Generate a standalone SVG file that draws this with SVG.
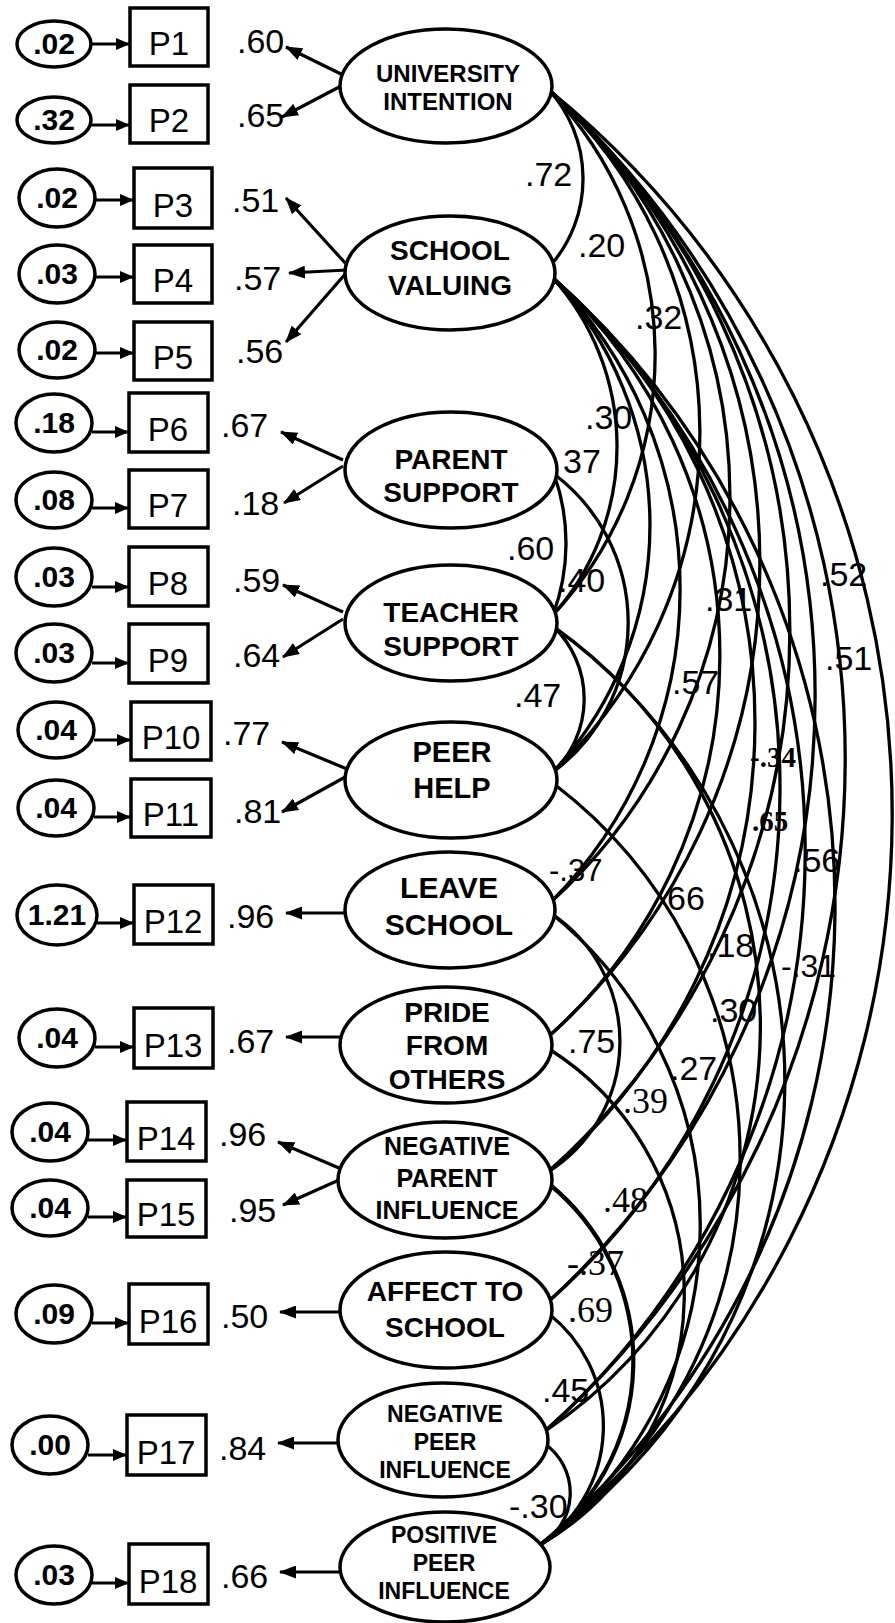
<svg xmlns="http://www.w3.org/2000/svg" width="895" height="1623" viewBox="0 0 895 1623">
<style>
.ln{fill:none;stroke:#000;stroke-width:3.3}
.ar{fill:none;stroke:#000;stroke-width:3.2;marker-end:url(#ah)}
.ea{fill:none;stroke:#000;stroke-width:3.2;marker-end:url(#eh)}
.nd{fill:#fff;stroke:#000;stroke-width:3.5}
.bx{fill:#fff;stroke:#000;stroke-width:3.5}
text{font-family:"Liberation Sans",Arial,sans-serif;fill:#000}
.lt{font-weight:bold;text-anchor:middle}
.er{font-weight:bold;font-size:30px;text-anchor:middle}
.pt{font-size:33px;text-anchor:middle}
.nm{font-size:34px}
.tm{font-family:"Liberation Serif","Times New Roman",serif;font-size:36px}
.tb{font-family:"Liberation Serif","Times New Roman",serif;font-size:29px;font-weight:bold}
</style>
<defs>
<marker id="ah" markerUnits="userSpaceOnUse" markerWidth="17" markerHeight="13" refX="16" refY="6.5" orient="auto"><path d="M0,0 L17,6.5 L0,13 Z" fill="#000"/></marker>
<marker id="eh" markerUnits="userSpaceOnUse" markerWidth="14" markerHeight="12" refX="14" refY="6" orient="auto"><path d="M0,0 L14,6 L0,12 Z" fill="#000"/></marker>
</defs>
<g id="connectors">
<path class="ln" d="M549,90 A132.5,132.5 0 0 1 551,265"/>
<path class="ln" d="M549,90 A383,383 0 0 1 553,615"/>
<path class="ln" d="M549,90 A465,465 0 0 1 553,772"/>
<path class="ln" d="M549,90 A548,548 0 0 1 551,902"/>
<path class="ln" d="M549,90 A636,636 0 0 1 548,1037"/>
<path class="ln" d="M549,90 A727,727 0 0 1 548,1172"/>
<path class="ln" d="M549,90 A822,822 0 0 1 548,1302"/>
<path class="ln" d="M549,90 A903,903 0 0 1 544,1432"/>
<path class="ln" d="M549,90 A935,935 0 0 1 540,1545"/>
<path class="ln" d="M552,277 A253.6,253.6 0 0 1 553,615"/>
<path class="ln" d="M552,277 A363,363 0 0 1 553,772"/>
<path class="ln" d="M552,277 A444,444 0 0 1 551,902"/>
<path class="ln" d="M552,277 A510,510 0 0 1 548,1037"/>
<path class="ln" d="M552,277 A591,591 0 0 1 548,1172"/>
<path class="ln" d="M552,277 A686,686 0 0 1 548,1302"/>
<path class="ln" d="M552,277 A777,777 0 0 1 544,1432"/>
<path class="ln" d="M552,277 A840,840 0 0 1 540,1545"/>
<path class="ln" d="M554,474 A205,205 0 0 1 553,615"/>
<path class="ln" d="M554,474 A186,186 0 0 1 553,772"/>
<path class="ln" d="M554,627 A101,101 0 0 1 553,772"/>
<path class="ln" d="M554,627 A489,489 0 0 1 544,1432"/>
<path class="ln" d="M554,627 A562,562 0 0 1 540,1545"/>
<path class="ln" d="M554,784 A471.6,471.6 0 0 1 540,1545"/>
<path class="ln" d="M552,914 A154,154 0 0 1 548,1172"/>
<path class="ln" d="M552,914 A400,400 0 0 1 540,1545"/>
<path class="ln" d="M549,1049 A290,290 0 0 1 540,1545"/>
<path class="ln" style="stroke-width:4.2" d="M549,1184 A228,228 0 0 1 540,1545"/>
<path class="ln" d="M549,1314 A143,143 0 0 1 540,1545"/>
<path class="ln" d="M545,1444 A60,60 0 0 1 540,1545"/>
<line class="ar" x1="343" y1="75" x2="286" y2="47"/>
<line class="ar" x1="343" y1="85" x2="282" y2="117"/>
<line class="ar" x1="347" y1="265" x2="286" y2="198"/>
<line class="ar" x1="347" y1="270" x2="289" y2="273"/>
<line class="ar" x1="347" y1="272" x2="286" y2="342"/>
<line class="ar" x1="343" y1="460" x2="281" y2="432"/>
<line class="ar" x1="343" y1="466" x2="284" y2="503"/>
<line class="ar" x1="343" y1="612" x2="283" y2="585"/>
<line class="ar" x1="343" y1="619" x2="283" y2="657"/>
<line class="ar" x1="347" y1="769" x2="282" y2="742"/>
<line class="ar" x1="347" y1="776" x2="282" y2="812"/>
<line class="ar" x1="347" y1="913" x2="286" y2="913"/>
<line class="ar" x1="342" y1="1037" x2="286" y2="1037"/>
<line class="ar" x1="339" y1="1168" x2="278" y2="1142"/>
<line class="ar" x1="339" y1="1180" x2="283" y2="1205"/>
<line class="ar" x1="342" y1="1312" x2="280" y2="1312"/>
<line class="ar" x1="339" y1="1443" x2="278" y2="1443"/>
<line class="ar" x1="342" y1="1572" x2="280" y2="1572"/>
<line class="ea" x1="91" y1="44" x2="130" y2="44"/>
<line class="ea" x1="91" y1="125" x2="130" y2="125"/>
<line class="ea" x1="95" y1="200" x2="134" y2="200"/>
<line class="ea" x1="95" y1="277" x2="134" y2="277"/>
<line class="ea" x1="95" y1="353" x2="134" y2="353"/>
<line class="ea" x1="92" y1="432" x2="129" y2="432"/>
<line class="ea" x1="92" y1="508" x2="129" y2="508"/>
<line class="ea" x1="92" y1="587" x2="129" y2="587"/>
<line class="ea" x1="92" y1="663" x2="129" y2="663"/>
<line class="ea" x1="94" y1="740" x2="131" y2="740"/>
<line class="ea" x1="94" y1="817" x2="131" y2="817"/>
<line class="ea" x1="97" y1="923" x2="134" y2="923"/>
<line class="ea" x1="95" y1="1047" x2="134" y2="1047"/>
<line class="ea" x1="88" y1="1140" x2="127" y2="1140"/>
<line class="ea" x1="88" y1="1217" x2="127" y2="1217"/>
<line class="ea" x1="92" y1="1323" x2="129" y2="1323"/>
<line class="ea" x1="88" y1="1455" x2="127" y2="1455"/>
<line class="ea" x1="92" y1="1583" x2="129" y2="1583"/>
</g>
<g id="labels">
<text class="nm" x="237" y="53">.60</text>
<text class="nm" x="237" y="127">.65</text>
<text class="nm" x="232" y="212">.51</text>
<text class="nm" x="234" y="290">.57</text>
<text class="nm" x="236" y="363">.56</text>
<text class="nm" x="221" y="437">.67</text>
<text class="nm" x="232" y="515">.18</text>
<text class="nm" x="233" y="592">.59</text>
<text class="nm" x="233" y="667">.64</text>
<text class="nm" x="223" y="745">.77</text>
<text class="nm" x="234" y="823">.81</text>
<text class="nm" x="227" y="928">.96</text>
<text class="nm" x="227" y="1053">.67</text>
<text class="nm" x="219" y="1146">.96</text>
<text class="nm" x="229" y="1222">.95</text>
<text class="nm" x="221" y="1328">.50</text>
<text class="nm" x="219" y="1460">.84</text>
<text class="nm" x="221" y="1588">.66</text>
<text class="nm" x="525" y="186">.72</text>
<text class="nm" x="578" y="257">.20</text>
<text class="nm" x="635" y="329">.32</text>
<text class="nm" x="585" y="429">.30</text>
<text class="nm" x="563" y="473">37</text>
<text class="nm" x="507" y="560">.60</text>
<text class="nm" x="558" y="592">.40</text>
<text class="nm" x="705" y="611">.31</text>
<text class="nm" x="820" y="586">.52</text>
<text class="nm" x="672" y="694">.57</text>
<text class="nm" x="825" y="670">.51</text>
<text class="nm" x="514" y="707">.47</text>
<text class="tb" x="750" y="767">-.34</text>
<text class="tb" x="752" y="831">.65</text>
<text class="nm" x="793" y="872">.56</text>
<text class="nm" x="549" y="881" style="font-size:31px">-.37</text>
<text class="nm" x="667" y="910">66</text>
<text class="nm" x="707" y="957">.18</text>
<text class="nm" x="781" y="977" style="font-size:32px">-.31</text>
<text class="nm" x="710" y="1022">.30</text>
<text class="nm" x="568" y="1053">.75</text>
<text class="nm" x="670" y="1080">.27</text>
<text class="tm" x="623" y="1113">.39</text>
<text class="tm" x="603" y="1212">.48</text>
<text class="tm" x="567" y="1275">-.37</text>
<text class="tm" x="568" y="1322">.69</text>
<text class="nm" x="542" y="1402">.45</text>
<text class="nm" x="509" y="1518">-.30</text>
</g>
<g id="n-uni"><ellipse class="nd" cx="446" cy="86" rx="106" ry="57"/><text class="lt" style="font-size:24px" x="448" y="82">UNIVERSITY</text><text class="lt" style="font-size:24px" x="448" y="110">INTENTION</text></g>
<g id="n-sv"><ellipse class="nd" cx="450" cy="273" rx="105" ry="57"/><text class="lt" style="font-size:28px" x="450" y="260">SCHOOL</text><text class="lt" style="font-size:28px" x="450" y="295">VALUING</text></g>
<g id="n-ps"><ellipse class="nd" cx="451" cy="470" rx="106" ry="58"/><text class="lt" style="font-size:28px" x="451" y="469">PARENT</text><text class="lt" style="font-size:28px" x="451" y="502">SUPPORT</text></g>
<g id="n-ts"><ellipse class="nd" cx="451" cy="623" rx="106" ry="58"/><text class="lt" style="font-size:28px" x="451" y="622">TEACHER</text><text class="lt" style="font-size:28px" x="451" y="656">SUPPORT</text></g>
<g id="n-ph"><ellipse class="nd" cx="451" cy="780" rx="106" ry="58"/><text class="lt" style="font-size:29px" x="452" y="762">PEER</text><text class="lt" style="font-size:29px" x="452" y="798">HELP</text></g>
<g id="n-ls"><ellipse class="nd" cx="450" cy="910" rx="105" ry="58"/><text class="lt" style="font-size:30px" x="449" y="898">LEAVE</text><text class="lt" style="font-size:30px" x="449" y="935">SCHOOL</text></g>
<g id="n-pr"><ellipse class="nd" cx="446" cy="1045" rx="106" ry="58"/><text class="lt" style="font-size:28px" x="447" y="1022">PRIDE</text><text class="lt" style="font-size:28px" x="447" y="1055">FROM</text><text class="lt" style="font-size:28px" x="447" y="1089">OTHERS</text></g>
<g id="n-npi"><ellipse class="nd" cx="445" cy="1180" rx="107" ry="58"/><text class="lt" style="font-size:25px" x="447" y="1155">NEGATIVE</text><text class="lt" style="font-size:25px" x="447" y="1187">PARENT</text><text class="lt" style="font-size:25px" x="447" y="1219">INFLUENCE</text></g>
<g id="n-as"><ellipse class="nd" cx="446" cy="1310" rx="106" ry="58"/><text class="lt" style="font-size:28px" x="445" y="1301">AFFECT TO</text><text class="lt" style="font-size:28px" x="445" y="1337">SCHOOL</text></g>
<g id="n-np"><ellipse class="nd" cx="443" cy="1440" rx="105" ry="57"/><text class="lt" style="font-size:23px" x="445" y="1422">NEGATIVE</text><text class="lt" style="font-size:23px" x="445" y="1450">PEER</text><text class="lt" style="font-size:23px" x="445" y="1478">INFLUENCE</text></g>
<g id="n-pp"><ellipse class="nd" cx="445" cy="1567" rx="105" ry="55"/><text class="lt" style="font-size:23px" x="444" y="1543">POSITIVE</text><text class="lt" style="font-size:23px" x="444" y="1571">PEER</text><text class="lt" style="font-size:23px" x="444" y="1599">INFLUENCE</text></g>
<g id="ind-p1"><ellipse class="nd" cx="54" cy="44" rx="37" ry="23"/><text class="er" x="54" y="54">.02</text><rect class="bx" x="130" y="8" width="78" height="58"/><text class="pt" x="169" y="55">P1</text></g>
<g id="ind-p2"><ellipse class="nd" cx="54" cy="120" rx="37" ry="23"/><text class="er" x="54" y="130">.32</text><rect class="bx" x="130" y="85" width="78" height="58"/><text class="pt" x="169" y="132">P2</text></g>
<g id="ind-p3"><ellipse class="nd" cx="57" cy="198" rx="38" ry="29"/><text class="er" x="57" y="208">.02</text><rect class="bx" x="134" y="168" width="78" height="60"/><text class="pt" x="173" y="217">P3</text></g>
<g id="ind-p4"><ellipse class="nd" cx="57" cy="274" rx="38" ry="29"/><text class="er" x="57" y="284">.03</text><rect class="bx" x="134" y="245" width="78" height="58"/><text class="pt" x="173" y="292">P4</text></g>
<g id="ind-p5"><ellipse class="nd" cx="57" cy="350" rx="38" ry="28"/><text class="er" x="57" y="360">.02</text><rect class="bx" x="134" y="322" width="78" height="58"/><text class="pt" x="173" y="369">P5</text></g>
<g id="ind-p6"><ellipse class="nd" cx="54" cy="423" rx="38" ry="29"/><text class="er" x="54" y="433">.18</text><rect class="bx" x="129" y="393" width="79" height="59"/><text class="pt" x="168" y="441">P6</text></g>
<g id="ind-p7"><ellipse class="nd" cx="54" cy="500" rx="38" ry="28"/><text class="er" x="54" y="510">.08</text><rect class="bx" x="129" y="470" width="79" height="58"/><text class="pt" x="168" y="517">P7</text></g>
<g id="ind-p8"><ellipse class="nd" cx="54" cy="577" rx="38" ry="29"/><text class="er" x="54" y="587">.03</text><rect class="bx" x="129" y="547" width="79" height="59"/><text class="pt" x="168" y="595">P8</text></g>
<g id="ind-p9"><ellipse class="nd" cx="54" cy="653" rx="38" ry="29"/><text class="er" x="54" y="663">.03</text><rect class="bx" x="129" y="624" width="79" height="59"/><text class="pt" x="168" y="672">P9</text></g>
<g id="ind-p10"><ellipse class="nd" cx="56" cy="730" rx="38" ry="28"/><text class="er" x="56" y="740">.04</text><rect class="bx" x="131" y="702" width="80" height="58"/><text class="pt" x="171" y="749">P10</text></g>
<g id="ind-p11"><ellipse class="nd" cx="56" cy="808" rx="38" ry="28"/><text class="er" x="56" y="818">.04</text><rect class="bx" x="131" y="779" width="80" height="58"/><text class="pt" x="171" y="826">P11</text></g>
<g id="ind-p12"><ellipse class="nd" cx="57" cy="915" rx="40" ry="30"/><text class="er" x="57" y="925">1.21</text><rect class="bx" x="134" y="885" width="79" height="59"/><text class="pt" x="173" y="933">P12</text></g>
<g id="ind-p13"><ellipse class="nd" cx="57" cy="1038" rx="38" ry="29"/><text class="er" x="57" y="1048">.04</text><rect class="bx" x="134" y="1008" width="79" height="60"/><text class="pt" x="173" y="1057">P13</text></g>
<g id="ind-p14"><ellipse class="nd" cx="50" cy="1132" rx="38" ry="29"/><text class="er" x="50" y="1142">.04</text><rect class="bx" x="127" y="1102" width="79" height="59"/><text class="pt" x="166" y="1150">P14</text></g>
<g id="ind-p15"><ellipse class="nd" cx="50" cy="1208" rx="38" ry="28"/><text class="er" x="50" y="1218">.04</text><rect class="bx" x="127" y="1180" width="79" height="57"/><text class="pt" x="166" y="1226">P15</text></g>
<g id="ind-p16"><ellipse class="nd" cx="54" cy="1314" rx="38" ry="29"/><text class="er" x="54" y="1324">.09</text><rect class="bx" x="129" y="1284" width="79" height="60"/><text class="pt" x="168" y="1333">P16</text></g>
<g id="ind-p17"><ellipse class="nd" cx="50" cy="1445" rx="38" ry="29"/><text class="er" x="50" y="1455">.00</text><rect class="bx" x="127" y="1415" width="79" height="60"/><text class="pt" x="166" y="1464">P17</text></g>
<g id="ind-p18"><ellipse class="nd" cx="54" cy="1575" rx="38" ry="29"/><text class="er" x="54" y="1585">.03</text><rect class="bx" x="129" y="1544" width="79" height="60"/><text class="pt" x="168" y="1593">P18</text></g>
</svg>
